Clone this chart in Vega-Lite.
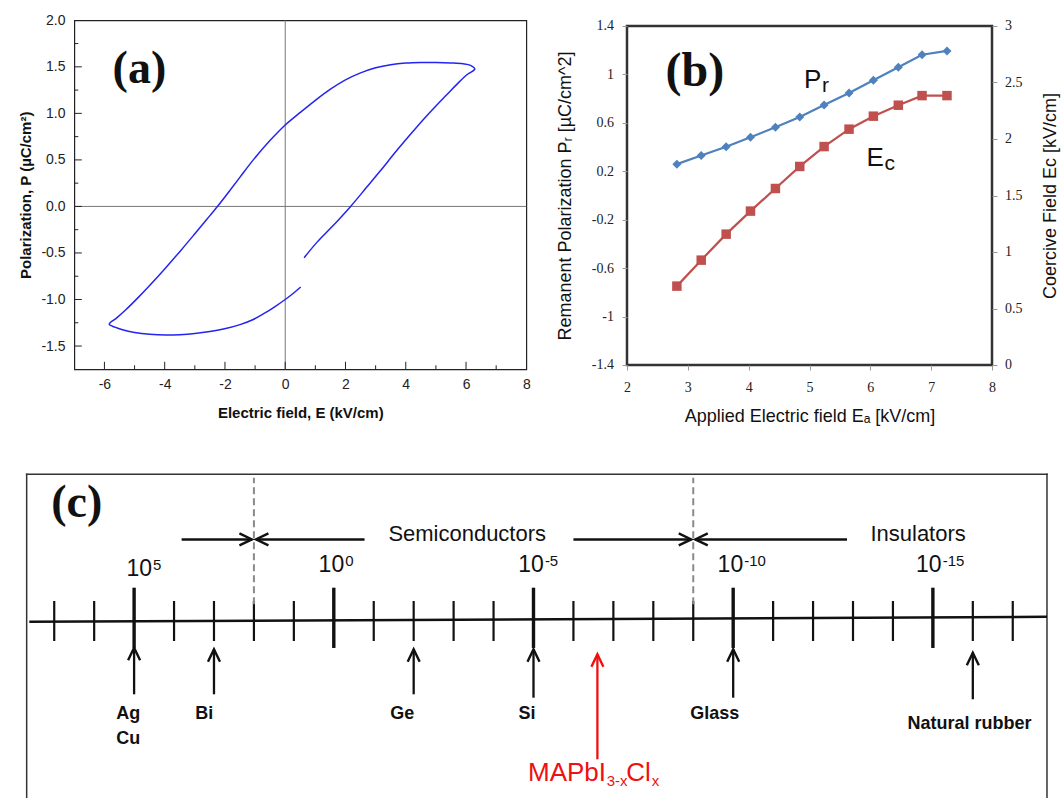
{
  "$schema": "https://vega.github.io/schema/vega-lite/v6.json",
  "background": "white",
  "padding": {"left": 6.3, "top": 12.3, "right": 0, "bottom": 0},
  "config": {
    "view": {"stroke": null},
    "font": "Liberation Sans",
    "axis": {"labelFont": "Liberation Sans", "titleFont": "Liberation Sans", "labelColor": "#111", "titleColor": "#111", "grid": false, "domain": false, "labelOverlap": false}
  },
  "datasets": {
    "loop": [
      {"i": 0, "E": 0.514, "P": -0.866}, {"i": 1, "E": 0.25, "P": -0.938}, {"i": 2, "E": 0.0, "P": -1.0},
      {"i": 3, "E": -0.35, "P": -1.078}, {"i": 4, "E": -0.7, "P": -1.15}, {"i": 5, "E": -1.06, "P": -1.215},
      {"i": 6, "E": -1.5, "P": -1.27}, {"i": 7, "E": -2.05, "P": -1.318}, {"i": 8, "E": -2.5, "P": -1.345},
      {"i": 9, "E": -3.0, "P": -1.366}, {"i": 10, "E": -3.5, "P": -1.378}, {"i": 11, "E": -3.95, "P": -1.382},
      {"i": 12, "E": -4.5, "P": -1.374}, {"i": 13, "E": -5.0, "P": -1.354}, {"i": 14, "E": -5.4, "P": -1.325},
      {"i": 15, "E": -5.65, "P": -1.297}, {"i": 16, "E": -5.84, "P": -1.266},
      {"i": 17, "E": -5.6, "P": -1.2}, {"i": 18, "E": -5.3, "P": -1.113}, {"i": 19, "E": -4.9, "P": -0.985},
      {"i": 20, "E": -4.5, "P": -0.849}, {"i": 21, "E": -4.0, "P": -0.671}, {"i": 22, "E": -3.45, "P": -0.467},
      {"i": 23, "E": -3.0, "P": -0.294}, {"i": 24, "E": -2.6, "P": -0.138}, {"i": 25, "E": -2.25, "P": 0.0},
      {"i": 26, "E": -1.9, "P": 0.145}, {"i": 27, "E": -1.5, "P": 0.315}, {"i": 28, "E": -1.06, "P": 0.5},
      {"i": 29, "E": -0.5, "P": 0.71}, {"i": 30, "E": 0.0, "P": 0.875}, {"i": 31, "E": 0.5, "P": 1.01},
      {"i": 32, "E": 1.0, "P": 1.14}, {"i": 33, "E": 1.5, "P": 1.26}, {"i": 34, "E": 2.0, "P": 1.36},
      {"i": 35, "E": 2.5, "P": 1.435}, {"i": 36, "E": 3.0, "P": 1.49}, {"i": 37, "E": 3.5, "P": 1.523},
      {"i": 38, "E": 4.0, "P": 1.54}, {"i": 39, "E": 4.5, "P": 1.546}, {"i": 40, "E": 5.0, "P": 1.546},
      {"i": 41, "E": 5.5, "P": 1.541}, {"i": 42, "E": 5.9, "P": 1.532}, {"i": 43, "E": 6.15, "P": 1.515},
      {"i": 44, "E": 6.29, "P": 1.475},
      {"i": 45, "E": 6.05, "P": 1.42}, {"i": 46, "E": 5.75, "P": 1.33}, {"i": 47, "E": 5.36, "P": 1.2},
      {"i": 48, "E": 5.0, "P": 1.08}, {"i": 49, "E": 4.6, "P": 0.94}, {"i": 50, "E": 4.25, "P": 0.81},
      {"i": 51, "E": 3.7, "P": 0.6}, {"i": 52, "E": 3.15, "P": 0.38}, {"i": 53, "E": 2.7, "P": 0.205},
      {"i": 54, "E": 2.17, "P": 0.0}, {"i": 55, "E": 1.75, "P": -0.15}, {"i": 56, "E": 1.38, "P": -0.275},
      {"i": 57, "E": 1.0, "P": -0.405}, {"i": 58, "E": 0.627, "P": -0.551}
    ],
    "ferro": [
      {"Ea": 2.82, "Pr": 0.259, "Ec": 0.698}, {"Ea": 3.22, "Pr": 0.33, "Ec": 0.928},
      {"Ea": 3.63, "Pr": 0.402, "Ec": 1.158}, {"Ea": 4.03, "Pr": 0.481, "Ec": 1.362},
      {"Ea": 4.44, "Pr": 0.564, "Ec": 1.562}, {"Ea": 4.84, "Pr": 0.649, "Ec": 1.757},
      {"Ea": 5.24, "Pr": 0.748, "Ec": 1.933}, {"Ea": 5.65, "Pr": 0.847, "Ec": 2.087},
      {"Ea": 6.05, "Pr": 0.952, "Ec": 2.202}, {"Ea": 6.46, "Pr": 1.059, "Ec": 2.299},
      {"Ea": 6.85, "Pr": 1.163, "Ec": 2.384}, {"Ea": 7.26, "Pr": 1.194, "Ec": 2.384}
    ],
    "blabels": [
      {"Ea": 4.91, "Pr": 0.888, "t": "P", "s": "r"},
      {"Ea": 5.937, "Pr": 0.244, "t": "E", "s": "c"}
    ]
  },
  "bounds": "flush",
  "spacing": 454,
  "vconcat": [
    {
      "bounds": "flush",
      "spacing": 67,
      "hconcat": [
        {"width": 1, "height": 1, "data": {"values": []}, "mark": {"type": "point", "opacity": 0}},
        {
          "bounds": "flush",
          "spacing": 100.7,
          "hconcat": [
            {
              "width": 452,
              "height": 349,
              "view": {"stroke": "#222", "strokeWidth": 1.2},
              "layer": [
                {
                  "data": {"values": [{"E": 0}]},
                  "mark": {"type": "rule", "color": "#777", "strokeWidth": 1},
                  "encoding": {
                    "x": {"field": "E", "type": "quantitative", "scale": {"domain": [-7, 8], "nice": false, "zero": false},
                      "axis": {
                        "title": "Electric field, E (kV/cm)",
                        "values": [-6, -4, -2, 0, 2, 4, 6, 8],
                        "labelExpr": "'' + datum.value",
                        "ticks": false, "tickSize": 0,
                        "labelPadding": 8.4, "labelFlush": false, "labelFontSize": 14, "labelColor": "#222",
                        "titleFontSize": 15, "titleFontWeight": "bold", "titlePadding": 14
                      }
                    }
                  }
                },
                {
                  "data": {"values": [{"P": 0}]},
                  "mark": {"type": "rule", "color": "#777", "strokeWidth": 1},
                  "encoding": {
                    "y": {"field": "P", "type": "quantitative", "scale": {"domain": [-1.75, 2], "nice": false, "zero": false},
                      "axis": {
                        "title": "Polarization, P (µC/cm²)",
                        "values": [-1.5, -1, -0.5, 0, 0.5, 1, 1.5, 2],
                        "labelExpr": "replace(format(datum.value, '.1f'), '−', '-')",
                        "ticks": false, "tickSize": 0,
                        "labelPadding": 9.3, "labelFontSize": 14, "labelColor": "#222",
                        "titleFontSize": 15, "titleFontWeight": "bold", "titlePadding": 7.5
                      }
                    }
                  }
                },
                {
                  "data": {"values": [{"E": -6}, {"E": -4}, {"E": -2}, {"E": 0}, {"E": 2}, {"E": 4}, {"E": 6}]},
                  "mark": {"type": "rule", "color": "#222", "strokeWidth": 1},
                  "encoding": {
                    "x": {"field": "E", "type": "quantitative"},
                    "y": {"datum": -1.75, "type": "quantitative"},
                    "y2": {"datum": -1.6694}
                  }
                },
                {
                  "data": {"values": [{"E": -5}, {"E": -3}, {"E": -1}, {"E": 1}, {"E": 3}, {"E": 5}, {"E": 7}]},
                  "mark": {"type": "rule", "color": "#222", "strokeWidth": 1},
                  "encoding": {
                    "x": {"field": "E", "type": "quantitative"},
                    "y": {"datum": -1.75, "type": "quantitative"},
                    "y2": {"datum": -1.707}
                  }
                },
                {
                  "data": {"values": [{"P": -1.5}, {"P": -1}, {"P": -0.5}, {"P": 0}, {"P": 0.5}, {"P": 1}, {"P": 1.5}]},
                  "mark": {"type": "rule", "color": "#222", "strokeWidth": 1},
                  "encoding": {
                    "y": {"field": "P", "type": "quantitative"},
                    "x": {"datum": -7, "type": "quantitative"},
                    "x2": {"datum": -6.751}
                  }
                },
                {
                  "data": {"values": [{"P": -1.25}, {"P": -0.75}, {"P": -0.25}, {"P": 0.25}, {"P": 0.75}, {"P": 1.25}, {"P": 1.75}]},
                  "mark": {"type": "rule", "color": "#222", "strokeWidth": 1},
                  "encoding": {
                    "y": {"field": "P", "type": "quantitative"},
                    "x": {"datum": -7, "type": "quantitative"},
                    "x2": {"datum": -6.867}
                  }
                },
                {
                  "data": {"name": "loop"},
                  "mark": {"type": "line", "color": "#2424f0", "strokeWidth": 1.5, "interpolate": "catmull-rom"},
                  "encoding": {
                    "x": {"field": "E", "type": "quantitative"},
                    "y": {"field": "P", "type": "quantitative"},
                    "order": {"field": "i", "type": "quantitative"}
                  }
                },
                {
                  "data": {"values": [{"E": -4.84, "P": 1.321, "t": "(a)"}]},
                  "mark": {"type": "text", "font": "Liberation Serif", "fontWeight": "bold", "fontSize": 46, "align": "center", "baseline": "alphabetic", "color": "#111"},
                  "encoding": {
                    "x": {"field": "E", "type": "quantitative"},
                    "y": {"field": "P", "type": "quantitative"},
                    "text": {"field": "t"}
                  }
                }
              ]
            },
            {
              "bounds": "flush",
              "spacing": 4.7,
              "vconcat": [
                {"width": 1, "height": 1, "data": {"values": []}, "mark": {"type": "point", "opacity": 0}},
                {
                  "width": 365,
                  "height": 339,
                  "view": {"stroke": "#333", "strokeWidth": 2.5},
                  "resolve": {"scale": {"y": "independent"}},
                  "layer": [
                    {
                      "layer": [
                        {
                          "data": {"name": "ferro"},
                          "mark": {"type": "line", "color": "#4F81BD", "strokeWidth": 2.2},
                          "encoding": {
                            "x": {"field": "Ea", "type": "quantitative", "scale": {"domain": [2, 8], "nice": false, "zero": false},
                              "axis": {
                                "title": "Applied Electric field Eₐ [kV/cm]",
                                "values": [2, 3, 4, 5, 6, 7, 8],
                                "labelExpr": "'' + datum.value",
                                "tickSize": 5, "tickColor": "#999",
                                "labelFont": "Liberation Serif", "labelFontSize": 14, "labelPadding": 10.4, "labelFlush": false, "labelColor": "#222",
                                "titleFontSize": 18, "titleFontWeight": "normal", "titlePadding": 13.4
                              }
                            },
                            "y": {"field": "Pr", "type": "quantitative", "scale": {"domain": [-1.4, 1.4], "nice": false, "zero": false},
                              "axis": {
                                "title": "Remanent Polarization Pᵣ [µC/cm^2]",
                                "values": [-1.4, -1, -0.6, -0.2, 0.2, 0.6, 1, 1.4],
                                "labelExpr": "'' + datum.value",
                                "tickSize": 5, "tickColor": "#999",
                                "labelFont": "Liberation Serif", "labelFontSize": 14, "labelPadding": 8.5, "labelColor": "#222",
                                "titleFontSize": 18, "titleFontWeight": "normal", "titlePadding": 16.4
                              }
                            }
                          }
                        },
                        {
                          "data": {"name": "ferro"},
                          "mark": {"type": "point", "shape": "diamond", "filled": true, "size": 81, "color": "#4F81BD", "opacity": 1},
                          "encoding": {
                            "x": {"field": "Ea", "type": "quantitative"},
                            "y": {"field": "Pr", "type": "quantitative"}
                          }
                        },
                        {
                          "data": {"values": [{"Ea": 3.116, "Pr": 0.901, "t": "(b)"}]},
                          "mark": {"type": "text", "font": "Liberation Serif", "fontWeight": "bold", "fontSize": 48, "align": "center", "baseline": "alphabetic", "color": "#111"},
                          "encoding": {
                            "x": {"field": "Ea", "type": "quantitative"},
                            "y": {"field": "Pr", "type": "quantitative"},
                            "text": {"field": "t"}
                          }
                        },
                        {
                          "data": {"name": "blabels"},
                          "mark": {"type": "text", "fontSize": 26, "align": "left", "baseline": "alphabetic", "color": "#111"},
                          "encoding": {
                            "x": {"field": "Ea", "type": "quantitative"},
                            "y": {"field": "Pr", "type": "quantitative"},
                            "text": {"field": "t"}
                          }
                        },
                        {
                          "data": {"name": "blabels"},
                          "mark": {"type": "text", "fontSize": 21, "align": "left", "baseline": "alphabetic", "dx": 18, "dy": 4, "color": "#111"},
                          "encoding": {
                            "x": {"field": "Ea", "type": "quantitative"},
                            "y": {"field": "Pr", "type": "quantitative"},
                            "text": {"field": "s"}
                          }
                        }
                      ]
                    },
                    {
                      "layer": [
                        {
                          "data": {"name": "ferro"},
                          "mark": {"type": "line", "color": "#C0504D", "strokeWidth": 2.2},
                          "encoding": {
                            "x": {"field": "Ea", "type": "quantitative"},
                            "y": {"field": "Ec", "type": "quantitative", "scale": {"domain": [0, 3], "nice": false, "zero": false},
                              "axis": {
                                "orient": "right",
                                "title": "Coercive Field Ec [kV/cm]",
                                "values": [0, 0.5, 1, 1.5, 2, 2.5, 3],
                                "labelExpr": "'' + datum.value",
                                "tickSize": 5, "tickColor": "#999",
                                "labelFont": "Liberation Serif", "labelFontSize": 14, "labelPadding": 7.5, "labelColor": "#222",
                                "titleFontSize": 18, "titleFontWeight": "normal", "titleAngle": 270, "titleBaseline": "top", "titlePadding": 19.8
                              }
                            }
                          }
                        },
                        {
                          "data": {"name": "ferro"},
                          "mark": {"type": "point", "shape": "square", "filled": true, "size": 90, "color": "#C0504D", "opacity": 1},
                          "encoding": {
                            "x": {"field": "Ea", "type": "quantitative"},
                            "y": {"field": "Ec", "type": "quantitative"}
                          }
                        }
                      ]
                    }
                  ]
                }
              ]
            }
          ]
        }
      ]
    },
    {
      "width": 1046.4,
      "height": 324,
      "layer": [
        {
          "data": {"values": [
            {"e": 7.69, "v": 0, "e2": 7.69, "v2": 100},
            {"e": 7.69, "v": 100, "e2": -17.857, "v2": 100},
            {"e": -17.857, "v": 0, "e2": -17.857, "v2": 100}
          ]},
          "mark": {"type": "rule", "color": "#333", "strokeWidth": 1.5, "strokeCap": "square"},
          "encoding": {
            "x": {"field": "e", "type": "quantitative", "scale": {"domain": [-18, 8.2], "reverse": true, "nice": false, "zero": false}, "axis": null},
            "x2": {"field": "e2"},
            "y": {"field": "v", "type": "quantitative", "scale": {"domain": [0, 100], "nice": false, "zero": false}, "axis": null},
            "y2": {"field": "v2"}
          }
        },
        {
          "data": {"values": [{"e": 7.624, "v": 54.5, "e2": -17.857, "v2": 56.0}]},
          "mark": {"type": "rule", "color": "#111", "strokeWidth": 2.5},
          "encoding": {
            "x": {"field": "e", "type": "quantitative", "axis": null},
            "x2": {"field": "e2"},
            "y": {"field": "v", "type": "quantitative", "axis": null},
            "y2": {"field": "v2"}
          }
        },
        {
          "data": {"values": [
            {"e": 7}, {"e": 6}, {"e": 4}, {"e": 3}, {"e": 2}, {"e": 1}, {"e": -1}, {"e": -2}, {"e": -3}, {"e": -4},
            {"e": -6}, {"e": -7}, {"e": -8}, {"e": -9}, {"e": -11}, {"e": -12}, {"e": -13}, {"e": -14}, {"e": -16}, {"e": -17}
          ]},
          "mark": {"type": "rule", "color": "#111", "strokeWidth": 2.2},
          "encoding": {
            "x": {"field": "e", "type": "quantitative", "axis": null},
            "y": {"datum": 48.55, "type": "quantitative", "axis": null},
            "y2": {"datum": 60.9}
          }
        },
        {
          "data": {"values": [{"e": 5}, {"e": 0}, {"e": -5}, {"e": -10}, {"e": -15}]},
          "mark": {"type": "rule", "color": "#111", "strokeWidth": 3.4},
          "encoding": {
            "x": {"field": "e", "type": "quantitative", "axis": null},
            "y": {"datum": 46.4, "type": "quantitative", "axis": null},
            "y2": {"datum": 65.0}
          }
        },
        {
          "data": {"values": [{"e": 2}, {"e": -9}]},
          "mark": {"type": "rule", "color": "#8a8a8a", "strokeWidth": 2, "strokeDash": [7, 4]},
          "encoding": {
            "x": {"field": "e", "type": "quantitative", "axis": null},
            "y": {"datum": 59.9, "type": "quantitative", "axis": null},
            "y2": {"datum": 98.95}
          }
        },
        {
          "data": {"values": [
            {"e": 3.81, "e2": 2.05, "v": 79.9},
            {"e": -0.77, "e2": 1.95, "v": 79.9},
            {"e": -6.0, "e2": -8.95, "v": 79.9},
            {"e": -12.85, "e2": -9.05, "v": 79.9}
          ]},
          "mark": {"type": "rule", "color": "#111", "strokeWidth": 2.5},
          "encoding": {
            "x": {"field": "e", "type": "quantitative", "axis": null},
            "x2": {"field": "e2"},
            "y": {"field": "v", "type": "quantitative", "axis": null}
          }
        },
        {
          "data": {"values": [
            {"e": 5, "v": 32.1, "v2": 46.48},
            {"e": 3, "v": 32.1, "v2": 45.99},
            {"e": -2, "v": 32.1, "v2": 45.99},
            {"e": -5, "v": 31.05, "v2": 45.99},
            {"e": -10, "v": 31.05, "v2": 45.99},
            {"e": -16, "v": 30.56, "v2": 44.94}
          ]},
          "mark": {"type": "rule", "color": "#111", "strokeWidth": 2.3},
          "encoding": {
            "x": {"field": "e", "type": "quantitative", "axis": null},
            "y": {"field": "v", "type": "quantitative", "axis": null},
            "y2": {"field": "v2"}
          }
        },
        {
          "data": {"values": [
            {"e": 2.05, "v": 79.9, "dir": "right"},
            {"e": 1.95, "v": 79.9, "dir": "left"},
            {"e": -8.95, "v": 79.9, "dir": "right"},
            {"e": -9.05, "v": 79.9, "dir": "left"},
            {"e": 5, "v": 46.48, "dir": "up"},
            {"e": 3, "v": 45.99, "dir": "up"},
            {"e": -2, "v": 45.99, "dir": "up"},
            {"e": -5, "v": 45.99, "dir": "up"},
            {"e": -10, "v": 45.99, "dir": "up"},
            {"e": -16, "v": 44.94, "dir": "up"}
          ]},
          "mark": {"type": "point", "filled": false, "size": 625, "strokeWidth": 2.4, "color": "#111", "opacity": 1},
          "encoding": {
            "x": {"field": "e", "type": "quantitative", "axis": null},
            "y": {"field": "v", "type": "quantitative", "axis": null},
            "shape": {"field": "dir", "type": "nominal", "legend": null,
              "scale": {"domain": ["right", "left", "up"], "range": ["M-1,-0.48L0,0L-1,0.48", "M1,-0.48L0,0L1,0.48", "M-0.48,1L0,0L0.48,1"]}}
          }
        },
        {
          "data": {"values": [{"e": -6.6, "v": 12.04, "v2": 44.44}]},
          "mark": {"type": "rule", "color": "#ee1111", "strokeWidth": 2.3},
          "encoding": {
            "x": {"field": "e", "type": "quantitative", "axis": null},
            "y": {"field": "v", "type": "quantitative", "axis": null},
            "y2": {"field": "v2"}
          }
        },
        {
          "data": {"values": [{"e": -6.6, "v": 44.44}]},
          "mark": {"type": "point", "filled": false, "size": 625, "strokeWidth": 2.4, "color": "#ee1111", "opacity": 1, "shape": "M-0.48,1L0,0L0.48,1"},
          "encoding": {
            "x": {"field": "e", "type": "quantitative", "axis": null},
            "y": {"field": "v", "type": "quantitative", "axis": null}
          }
        },
        {
          "data": {"values": [
            {"e": 4.55, "v": 68.5, "sup": "5"},
            {"e": -0.26, "v": 69.8, "sup": "0"},
            {"e": -5.26, "v": 69.8, "sup": "-5"},
            {"e": -10.25, "v": 69.8, "sup": "-10"},
            {"e": -15.22, "v": 69.8, "sup": "-15"}
          ]},
          "layer": [
            {
              "mark": {"type": "text", "text": "10", "fontSize": 23, "align": "right", "baseline": "alphabetic", "color": "#111"},
              "encoding": {
                "x": {"field": "e", "type": "quantitative", "axis": null},
                "y": {"field": "v", "type": "quantitative", "axis": null}
              }
            },
            {
              "mark": {"type": "text", "fontSize": 15, "align": "left", "baseline": "alphabetic", "dx": 1, "dy": -6.6, "color": "#111"},
              "encoding": {
                "x": {"field": "e", "type": "quantitative", "axis": null},
                "y": {"field": "v", "type": "quantitative", "axis": null},
                "text": {"field": "sup"}
              }
            }
          ]
        },
        {
          "data": {"values": [
            {"e": -3.34, "v": 79.4, "t": "Semiconductors"},
            {"e": -14.63, "v": 79.4, "t": "Insulators"}
          ]},
          "mark": {"type": "text", "fontSize": 22, "align": "center", "baseline": "alphabetic", "color": "#111"},
          "encoding": {
            "x": {"field": "e", "type": "quantitative", "axis": null},
            "y": {"field": "v", "type": "quantitative", "axis": null},
            "text": {"field": "t"}
          }
        },
        {
          "data": {"values": [
            {"e": 5.148, "v": 24.6, "t": ["Ag", "Cu"]},
            {"e": 3.243, "v": 24.38, "t": "Bi"},
            {"e": -1.717, "v": 24.38, "t": "Ge"},
            {"e": -4.835, "v": 24.38, "t": "Si"},
            {"e": -9.537, "v": 24.38, "t": "Glass"},
            {"e": -15.917, "v": 21.3, "t": "Natural rubber"}
          ]},
          "mark": {"type": "text", "fontSize": 18, "fontWeight": "bold", "align": "center", "baseline": "alphabetic", "lineHeight": 25, "color": "#111"},
          "encoding": {
            "x": {"field": "e", "type": "quantitative", "axis": null},
            "y": {"field": "v", "type": "quantitative", "axis": null},
            "text": {"field": "t"}
          }
        },
        {
          "data": {"values": [
            {"e": -4.862, "v": 5.34, "t": "MAPbI"},
            {"e": -7.324, "v": 5.34, "t": "Cl"}
          ]},
          "mark": {"type": "text", "fontSize": 26, "align": "left", "baseline": "alphabetic", "color": "#ee1111"},
          "encoding": {
            "x": {"field": "e", "type": "quantitative", "axis": null},
            "y": {"field": "v", "type": "quantitative", "axis": null},
            "text": {"field": "t"}
          }
        },
        {
          "data": {"values": [
            {"e": -6.833, "v": 3.8, "t": "3-x"},
            {"e": -7.96, "v": 3.8, "t": "x"}
          ]},
          "mark": {"type": "text", "fontSize": 15, "align": "left", "baseline": "alphabetic", "color": "#ee1111"},
          "encoding": {
            "x": {"field": "e", "type": "quantitative", "axis": null},
            "y": {"field": "v", "type": "quantitative", "axis": null},
            "text": {"field": "t"}
          }
        },
        {
          "data": {"values": [{"e": 6.437, "v": 86.9, "t": "(c)"}]},
          "mark": {"type": "text", "font": "Liberation Serif", "fontWeight": "bold", "fontSize": 46, "align": "center", "baseline": "alphabetic", "color": "#111"},
          "encoding": {
            "x": {"field": "e", "type": "quantitative", "axis": null},
            "y": {"field": "v", "type": "quantitative", "axis": null},
            "text": {"field": "t"}
          }
        }
      ]
    }
  ]
}
